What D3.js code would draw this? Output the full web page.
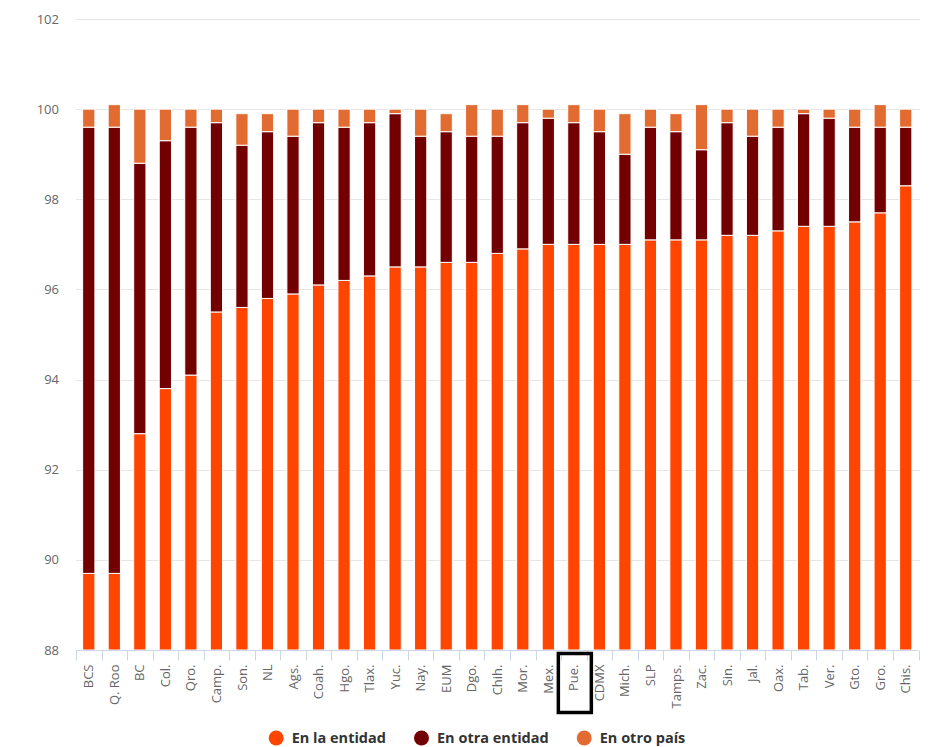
<!DOCTYPE html>
<html>
<head>
<meta charset="utf-8">
<script src="https://cdn.jsdelivr.net/npm/d3@7"></script>
<style>
  html, body { margin: 0; padding: 0; background: #fff; }
  svg { display: block; font-family: "Open Sans", "DejaVu Sans", sans-serif; }
</style>
</head>
<body>
<div id="chart"></div>
<script>
const categories = ['BCS', 'Q. Roo', 'BC', 'Col.', 'Qro.', 'Camp.', 'Son.', 'NL', 'Ags.', 'Coah.',
  'Hgo.', 'Tlax.', 'Yuc.', 'Nay.', 'EUM', 'Dgo.', 'Chih.', 'Mor.', 'Mex.', 'Pue.', 'CDMX',
  'Mich.', 'SLP', 'Tamps.', 'Zac.', 'Sin.', 'Jal.', 'Oax.', 'Tab.', 'Ver.', 'Gto.', 'Gro.', 'Chis.'];

// porcentajes por segmento (apilados)
const enLaEntidad = [89.7, 89.7, 92.8, 93.8, 94.1, 95.5, 95.6, 95.8, 95.9, 96.1,
  96.2, 96.3, 96.5, 96.5, 96.6, 96.6, 96.8, 96.9, 97.0, 97.0, 97.0,
  97.0, 97.1, 97.1, 97.1, 97.2, 97.2, 97.3, 97.4, 97.4, 97.5, 97.7, 98.3];
const enOtraEntidad = [9.9, 9.9, 6.0, 5.5, 5.5, 4.2, 3.6, 3.7, 3.5, 3.6,
  3.4, 3.4, 3.4, 2.9, 2.9, 2.8, 2.6, 2.8, 2.8, 2.7, 2.5,
  2.0, 2.5, 2.4, 2.0, 2.5, 2.2, 2.3, 2.5, 2.4, 2.1, 1.9, 1.3];
const enOtroPais = [0.4, 0.5, 1.2, 0.7, 0.4, 0.3, 0.7, 0.4, 0.6, 0.3,
  0.4, 0.3, 0.1, 0.6, 0.4, 0.7, 0.6, 0.4, 0.2, 0.4, 0.5,
  0.9, 0.4, 0.4, 1.0, 0.3, 0.6, 0.4, 0.1, 0.2, 0.4, 0.5, 0.4];

const yTicks = [88, 90, 92, 94, 96, 98, 100, 102];
const highlighted = 'Pue.';

const seriesNames = ['En la entidad', 'En otra entidad', 'En otro país'];
const colors = ['#ff4500', '#730000', '#e26b32'];

const width = 932, height = 747;
const margin = { top: 19, right: 13.5, bottom: 97, left: 76 };

const svg = d3.select('#chart').append('svg')
  .attr('width', width)
  .attr('height', height);

const x = d3.scaleBand()
  .domain(categories)
  .range([margin.left, width - margin.right])
  .paddingInner(0.52)
  .paddingOuter(0.26);

const y = d3.scaleLinear()
  .domain([88, 102])
  .range([height - margin.bottom, margin.top]);

// grid
svg.append('g')
  .selectAll('line')
  .data(yTicks.slice(1))
  .join('line')
  .attr('x1', margin.left)
  .attr('x2', width - 12)
  .attr('y1', d => Math.round(y(d)) + 0.5)
  .attr('y2', d => Math.round(y(d)) + 0.5)
  .attr('stroke', '#e6e6e6');

// y labels
svg.append('g')
  .selectAll('text')
  .data(yTicks)
  .join('text')
  .attr('x', 59)
  .attr('y', d => y(d))
  .attr('dy', '0.35em')
  .attr('text-anchor', 'end')
  .style('font-size', '13px')
  .attr('fill', '#666')
  .text(d => d);

// bars
const table = categories.map((c, i) => ({
  cat: c,
  s0: enLaEntidad[i],
  s1: enOtraEntidad[i],
  s2: enOtroPais[i]
}));

const stacked = d3.stack().keys(['s0', 's1', 's2'])(table);

stacked.forEach((layer, li) => {
  svg.append('g')
    .selectAll('rect')
    .data(layer)
    .join('rect')
    .attr('x', d => x(d.data.cat))
    .attr('width', x.bandwidth())
    .attr('y', d => y(d[1]))
    .attr('height', d => li === 0 ? y(88) - y(d[1]) : y(d[0]) - y(d[1]))
    .attr('fill', colors[li])
    .attr('stroke', '#fff')
    .attr('stroke-width', 1);
});

// x axis
const axisY = Math.round(y(88)) + 0.5;
const step = x.step();
const xAxis = svg.append('g');

xAxis.append('line')
  .attr('x1', margin.left)
  .attr('x2', width - margin.right)
  .attr('y1', axisY)
  .attr('y2', axisY)
  .attr('stroke', '#ccd6eb');

const boundaries = categories.map(c => x(c) + x.bandwidth() / 2 - step / 2);
boundaries.push(x(categories[categories.length - 1]) + x.bandwidth() / 2 + step / 2);

xAxis.selectAll('.tick')
  .data(boundaries)
  .join('line')
  .attr('class', 'tick')
  .attr('x1', d => Math.round(d) + 0.5)
  .attr('x2', d => Math.round(d) + 0.5)
  .attr('y1', axisY)
  .attr('y2', axisY + 10)
  .attr('stroke', '#ccd6eb');

xAxis.selectAll('text')
  .data(categories)
  .join('text')
  .attr('transform', d => `translate(${x(d) + x.bandwidth() / 2},${axisY + 14}) rotate(-90)`)
  .attr('dy', '0.35em')
  .attr('text-anchor', 'end')
  .style('font-size', '13px')
  .attr('fill', '#666')
  .text(d => d);

// highlight box
const hx = x(highlighted) + x.bandwidth() / 2;
svg.append('rect')
  .attr('x', hx - 15.5)
  .attr('y', axisY + 3)
  .attr('width', 33)
  .attr('height', 59)
  .attr('fill', 'none')
  .attr('stroke', '#000')
  .attr('stroke-width', 3.5);

// legend
const legend = svg.append('g');
const legendY = 738;
const itemGap = 28;
let cursor = 0;
seriesNames.forEach((name, i) => {
  const item = legend.append('g').attr('transform', `translate(${cursor},0)`);
  item.append('circle')
    .attr('cx', 7.5)
    .attr('cy', legendY)
    .attr('r', 7.5)
    .attr('fill', colors[i]);
  const t = item.append('text')
    .attr('x', 23)
    .attr('y', legendY)
    .attr('dy', '0.35em')
    .style('font-size', '14.5px')
    .style('font-weight', 'bold')
    .attr('fill', '#333')
    .text(name);
  cursor += 23 + t.node().getComputedTextLength() + itemGap;
});
const legendWidth = cursor - itemGap;
legend.attr('transform', `translate(${477 - legendWidth / 2},0)`);
</script>
</body>
</html>
